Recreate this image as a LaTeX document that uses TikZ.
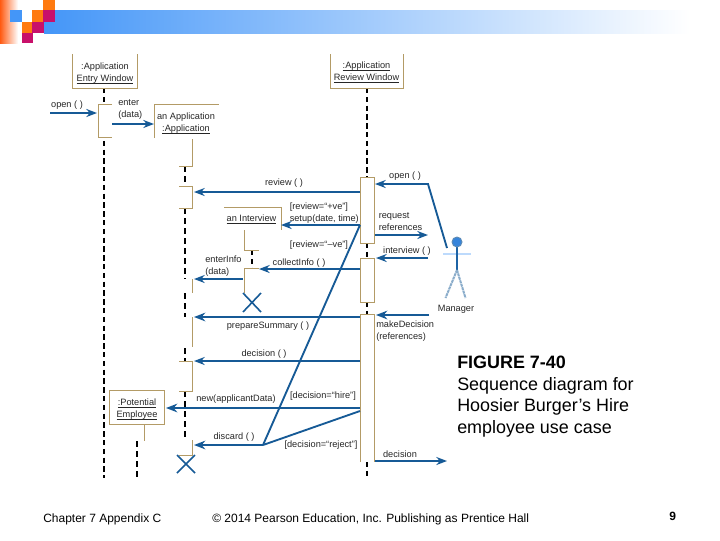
\documentclass[tikz,border=0pt]{standalone}
\usepackage{fontspec}
\setmainfont{Liberation Sans}
\usetikzlibrary{arrows.meta}
\definecolor{tan}{HTML}{B39B66}
\definecolor{blu}{HTML}{165A96}
\definecolor{sky}{HTML}{4496F8}
\definecolor{org}{HTML}{FF7A10}
\definecolor{mag}{HTML}{C8106A}
\definecolor{burn}{HTML}{FF5A12}
\newcommand\ulx[1]{\underline{\smash{#1}}}
\tikzset{
 lab/.style={inner sep=0pt,font=\fontsize{6.9pt}{9pt}\selectfont,align=left,text=black!85},
 labu/.style={lab,align=center},
 captext/.style={inner sep=0pt,anchor=base west,font=\fontsize{13.45pt}{15pt}\selectfont},
 foot/.style={inner sep=0pt,anchor=base west,font=\fontsize{9pt}{11pt}\selectfont},
 tanl/.style={draw=tan,line width=0.65pt},
 life/.style={black,line width=1.4pt,dash pattern=on 4pt off 2.6pt},
 lifet/.style={black,line width=0.8pt,dash pattern=on 4.5pt off 3pt},
 msg/.style={blu,line width=1.4pt,-{Stealth[length=8pt,width=6pt]}},
 msgb/.style={blu,line width=2pt,-{Stealth[length=8.5pt,width=6.5pt]}},
 wire/.style={blu,line width=1.4pt},
 killx/.style={blu,line width=1.2pt},
}
\begin{document}
\begin{tikzpicture}[x=0.75pt,y=-0.75pt]
\useasboundingbox (0,0) rectangle (720,540);
% header
\shade[left color=sky,right color=white,middle color=sky!50!white] (44,10) rectangle (690,33);
\shade[left color=burn,right color=white] (0,0) rectangle (18,43);
\fill[sky] (10,10) rectangle (22,22);
\fill[org] (43,0) rectangle (55,10);
\fill[org] (32,10) rectangle (43,22);
\fill[mag] (43,10) rectangle (55,22);
\fill[org] (22,22) rectangle (32,33);
\fill[mag] (32,22) rectangle (44,33);
\fill[mag] (22,33) rectangle (33,43);

% coordinates
\coordinate (eTop) at (104,88); \coordinate (eEnd) at (104,478);
\coordinate (rTop) at (367,88); \coordinate (rA1) at (367,177);
\coordinate (rA1b) at (367,243); \coordinate (rA2) at (367,258);
\coordinate (rA2b) at (367,302); \coordinate (rA3) at (367,314);
\coordinate (rA3b) at (367,462); \coordinate (rEnd) at (367,478);
\coordinate (openL) at (50,113); \coordinate (openLe) at (97,113);
\coordinate (enterS) at (112,124); \coordinate (enterE) at (154,124);
\coordinate (revS) at (360,192); \coordinate (revE) at (194,192);
\coordinate (mgrA) at (447,248); \coordinate (mgrB) at (428,184); \coordinate (mgrC) at (375,184);
\coordinate (reqS) at (375,235); \coordinate (reqE) at (428,235);
\coordinate (branch) at (360,225); \coordinate (setE) at (281,225);
\coordinate (join) at (263,445);
\coordinate (intS) at (428,258); \coordinate (intE) at (376,258);
\coordinate (colS) at (360,269); \coordinate (colE) at (259,269);
\coordinate (entS) at (243,279); \coordinate (entE) at (194,279);
\coordinate (preS) at (360,317); \coordinate (preE) at (194,317);
\coordinate (mkS) at (429,315); \coordinate (mkE) at (376,315);
\coordinate (decS) at (360,361); \coordinate (decE) at (194,361);
\coordinate (newS) at (360,408); \coordinate (newE) at (166,408);
\coordinate (rej) at (360,411); \coordinate (disE) at (194,445);
\coordinate (doS) at (375,461); \coordinate (doE) at (447,461);

% lifelines (dashed)
\draw[life] (eTop) -- (eEnd);
\draw[life] (rTop) -- (rA1);
\draw[life] (rA1b) -- (rA2);
\draw[life] (rA2b) -- (rA3);
\draw[life] (rA3b) -- (rEnd);
\draw[lifet] (185,166) -- (185,186);
\draw[lifet] (185,208) -- (185,279);
\draw[lifet] (185,293) -- (185,317);
\draw[lifet] (185,348) -- (185,361);
\draw[lifet] (185,391) -- (185,440);
\draw[life,line width=1.1pt] (252,250) -- (252,268);
\draw[lifet] (137,441) -- (137,478);

% object boxes
\draw[tanl] (72.5,54) -- (72.5,88) -- (137.5,88) -- (137.5,54);
\node[labu,anchor=base] (entry) at (105,81) {:Application\\\ulx{Entry Window}};
\draw[tanl] (330,54) -- (330,88) -- (403.5,88) -- (403.5,54);
\node[labu,anchor=base] (review) at (366.5,80) {\ulx{:Application}\\\ulx{Review Window}};
\draw[tanl] (154.5,138) -- (154.5,104.5) -- (218.5,104.5);
\node[labu,anchor=base] (appl) at (186,131.5) {an Application\\\ulx{:Application}};
\draw[tanl] (224,207) -- (281,207) -- (281,230);
\node[lab,anchor=base] (intv) at (251.5,221) {\ulx{an Interview}};
\draw[tanl,fill=white] (109,390) rectangle (164,424);
\node[labu,anchor=base] (pot) at (137,417) {\ulx{:Potential}\\\ulx{Employee}};
\draw[tanl] (144,424) -- (144,441);

% activations
\draw[tanl,fill=white] (112,104.5) -- (98,104.5) -- (98,137) -- (112,137);
\draw[tanl] (192,139) -- (192,166) -- (179,166);
\draw[tanl] (179,186) -- (192,186) -- (192,208) -- (179,208);
\draw[tanl] (192.5,279) -- (192.5,293);
\draw[tanl] (192.5,317) -- (192.5,347);
\draw[tanl] (179,361) -- (192,361) -- (192,391) -- (179,391);
\draw[tanl] (192,440) -- (192,455) -- (179,455);
\draw[tanl] (244,230) -- (244,250) -- (259,250);
\draw[tanl] (259,268) -- (244,268) -- (244,293);
\draw[tanl,fill=white] (360,177) rectangle (374,243);
\draw[tanl,fill=white] (360,258) rectangle (374,302);
\draw[tanl,fill=white] (360,462) -- (360,314) -- (374,314) -- (374,462);

% destroy marks
\draw[killx] (243,293) -- (261,312) (261,293) -- (243,312);
\draw[killx] (177,455) -- (195,473) (195,455) -- (177,473);

% messages
\draw[msg] (openL) -- (openLe);
\draw[msg] (enterS) -- (enterE);
\draw[msg] (revS) -- (revE);
\draw[msg] (mgrA) -- (mgrB) -- (mgrC);
\draw[msg] (reqS) -- (reqE);
\draw[msg] (branch) -- (setE);
\draw[wire] (branch) -- (join);
\draw[msg] (intS) -- (intE);
\draw[msg] (colS) -- (colE);
\draw[msg] (entS) -- (entE);
\draw[msgb] (preS) -- (preE);
\draw[msgb] (mkS) -- (mkE);
\draw[msg] (decS) -- (decE);
\draw[msgb] (newS) -- (newE);
\draw[wire] (rej) -- (join);
\draw[msgb] (join) -- (disE);
\draw[msg] (doS) -- (doE);

% manager actor
\draw[sky!35!white,line width=1.4pt] (443,254) -- (471,254);
\draw[blu!85!sky,line width=0.9pt] (457,247) -- (457,270);
\draw[blu!50!white,line width=1.5pt,dash pattern=on 2.2pt off 0.5pt] (457,270) -- (445.5,298);
\draw[blu!50!white,line width=1.5pt,dash pattern=on 2.2pt off 0.5pt] (457,270) -- (465.5,298);
\fill[sky!70!blu,draw=blu!70!white,line width=0.7pt] (457,242) circle (5);
\node[lab] (mgr) at (456,309) {Manager};

% labels
\node[lab] (lOpen) at (67,105) {open ( )};
\node[lab,anchor=north west] (lEnter) at (118,99.5) {enter\\(data)};
\node[lab] (lRev) at (284,183) {review ( )};
\node[lab] (lOpenR) at (405,176) {open ( )};
\node[lab,anchor=north west] (lSet) at (289.5,202.5) {[review=“+ve”]\\setup(date, time)};
\node[lab,anchor=north west] (lReq) at (378.5,212) {request\\references};
\node[lab] (lNeg) at (319,245) {[review=“–ve”]};
\node[lab] (lInt) at (407,251) {interview ( )};
\node[lab] (lCol) at (299,263) {collectInfo ( )};
\node[lab,anchor=north west] (lEnt) at (205,256) {enterInfo\\(data)};
\node[lab] (lPre) at (268,326) {prepareSummary ( )};
\node[lab,anchor=north west] (lMk) at (376,320.5) {makeDecision\\(references)};
\node[lab] (lDec) at (264,354) {decision ( )};
\node[lab] (lNew) at (236,399) {new(applicantData)};
\node[lab] (lHire) at (323,396) {[decision=“hire”]};
\node[lab] (lDis) at (234,437) {discard ( )};
\node[lab] (lRej) at (321,445) {[decision=“reject”]};
\node[lab] (lDo) at (400,454) {decision};

% caption
\node[captext,font=\fontsize{13.45pt}{15pt}\selectfont\bfseries] (c1) at (457,368.5) {FIGURE 7-40};
\node[captext] (c2) at (457,390) {Sequence diagram for};
\node[captext] (c3) at (457,411.5) {Hoosier Burger’s Hire};
\node[captext] (c4) at (457,433) {employee use case};
% footer
\node[foot] (f1) at (43,522) {Chapter 7 Appendix C};
\node[foot] (f2) at (212,522) {© 2014 Pearson Education, Inc. Publishing as Prentice Hall};
\node[foot,font=\fontsize{9pt}{11pt}\selectfont\bfseries] (f3) at (669,520) {9};
\end{tikzpicture}
\end{document}
